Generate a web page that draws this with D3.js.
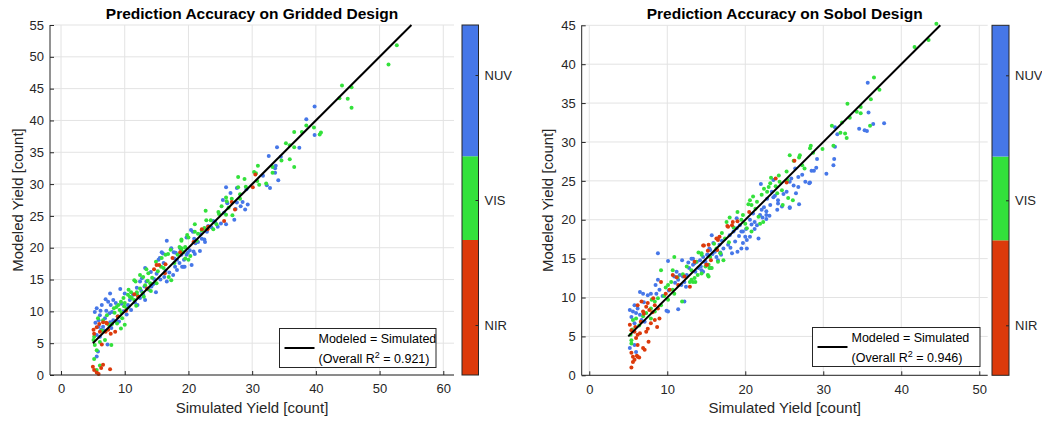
<!DOCTYPE html>
<html><head><meta charset="utf-8">
<script src="https://cdn.jsdelivr.net/npm/d3@7"></script>
<style>
body{margin:0;background:#fff}
svg{display:block}
text{font-family:"Liberation Sans",Arial,Helvetica,sans-serif}
</style>
</head><body>
<svg id="chart" width="1042" height="421"></svg>
<script>
// ---------- data ----------
const bandLabels = ["NIR", "VIS", "NUV"];
const bandTickValues = [1, 2, 3];
const bandDomain = [0.6, 3.4];
const bandEdges = [0.6, 1.68, 2.35, 3.4];
const bandColors = ["#dc3a0b", "#33e13b", "#4677e8"];

const gridTitle = "Prediction Accuracy on Gridded Design";
const gridXTicks = [0, 10, 20, 30, 40, 50, 60];
const gridYTicks = [0, 5, 10, 15, 20, 25, 30, 35, 40, 45, 50, 55];
const gridXDomain = [-1.73, 61.68];
const gridYDomain = [0, 55];
const gridRef = [[5, 5], [55, 55]];
const gridR2 = "0.921";
const gridNUV = [[39.8,42.2],[38.5,40.2],[39.8,37.7],[37.4,35.7],[33.9,35.8],[32.6,34.4],[34.5,34.3],[33.7,32.9],[33.6,32.5],[33.6,31.8],[31.7,31.3],[34.1,30.6],[32.3,29.8],[32.8,29.4],[29.1,29.2],[25.9,29.5],[26.6,28.6],[27.6,29.4],
[25.4,27.5],[26.1,27.0],[27.6,27.1],[28.5,27.2],[29.3,26.8],[28.2,26.5],[27.4,26.1],[28.9,26.0],[25.6,25.5],[23.9,24.2],[24.2,24.0],[25.1,23.8],[25.9,23.7],[27.2,24.4],[20.4,22.8],[20.7,22.5],[23.1,23.4],[23.6,23.2],[16.6,21.1],[22.5,21.3],[22.6,20.9],[22.1,21.4],[21.5,20.9],[21.1,20.7],[21.8,19.5],[20.2,19.6],[20.8,19.4],[21.0,19.0],[17.3,19.8],[17.7,19.3],[18.2,18.1],[18.9,18.9],[19.2,17.0],[20.5,17.3],[16.0,19.1],[15.3,18.1],
[19.7,21.6],[17.3,19.9],[18.0,19.2],[19.3,18.1],[19.7,18.9],[18.6,17.6],[19.0,17.0],[19.4,17.0],[15.8,19.3],[15.5,18.4],[13.2,16.8],[14.1,16.2],[15.0,15.9],[16.2,15.4],[16.6,14.7],[17.6,15.7],[17.9,17.0],[18.2,16.5],[14.9,13.0],[12.7,15.2],[12.4,14.7],[13.4,14.7],[11.9,13.7],[13.1,13.9],[14.2,13.9],[9.3,13.5],[10.0,12.8],[7.7,12.8],[8.2,11.8],[8.6,11.3],[7.8,11.0],[6.4,11.0],[5.6,10.5],[5.3,9.9],[7.4,11.5],[7.1,10.1],[7.6,9.7],[6.9,8.9],[6.1,9.4],[5.9,8.6],[6.6,7.6],[7.7,8.3],[8.2,8.6],[8.7,8.4],[7.9,7.4],[5.9,7.6],[6.3,7.1],[5.6,6.3],[6.1,6.0],[7.3,4.8],[5.8,3.7],[5.6,2.9],
[11.3,12.6],[11.9,12.7],[12.4,12.1],[13.2,11.8],[10.5,11.0],[11.0,10.2],[12.0,11.0],[9.8,10.0],[8.9,9.2],[10.3,9.5],
[9.5,11.2],[10.8,11.8],[11.6,11.4],[12.6,13.2],[13.8,13.4],[14.6,15.1],[15.6,15.0],[16.4,16.4],[17.0,16.1],[17.8,18.3],[18.7,19.9],[19.9,19.2],[20.9,21.4],[21.9,22.1],[22.9,22.5],[24.6,23.3],[8.0,9.9],[7.0,11.9],[6.2,10.1],[5.4,8.2],[6.8,7.0],[9.1,8.4],[10.6,10.7],[12.9,12.6],[14.5,14.3],[16.1,17.6]];
const gridVIS = [[52.7,51.8],[51.4,48.8],[44.1,45.5],[45.6,45.2],[43.7,43.5],[45.0,43.4],[45.6,42.0],[38.5,39.2],[39.7,38.9],[37.8,38.2],[40.8,38.1],[40.6,37.8],[36.6,38.2],[35.3,36.4],[35.9,36.1],[36.6,35.8],[35.9,33.9],[34.6,33.7],[36.6,32.7],[33.2,32.7],[30.9,32.9],[30.3,31.9],[30.6,31.7],[33.2,31.8],[27.8,31.1],[28.8,30.8],[30.8,30.5],[31.1,29.9],[32.2,30.1],[27.8,29.5],[29.0,29.6],
[25.9,27.9],[26.0,27.3],[26.8,27.7],[28.1,27.7],[28.1,28.4],[22.7,25.8],[24.7,25.6],[24.8,25.3],[25.9,25.2],[26.9,25.1],[21.0,23.7],[22.8,24.3],[23.5,24.3],[24.4,23.7],[22.1,22.7],[21.0,22.5],[21.5,22.2],[18.9,21.1],[19.8,22.0],[20.0,21.6],[18.9,19.9],[19.5,20.0],[18.3,18.9],[20.3,18.7],[19.5,18.3],[20.0,18.1],[15.8,18.4],[16.8,19.0],
[18.9,21.3],[19.5,20.1],[18.9,19.6],[17.2,19.7],[16.4,18.9],[14.9,17.8],[15.7,17.0],[13.4,16.6],[13.7,16.0],[16.9,15.4],[17.3,14.9],[13.6,13.5],[14.1,13.2],[11.5,14.9],[11.7,14.7],[12.4,15.7],[10.6,13.4],[11.0,13.0],[10.5,12.6],[11.1,12.1],[11.5,11.8],[9.8,12.1],[9.4,11.5],[10.0,11.3],[9.0,11.0],[8.7,10.7],[9.2,10.2],[8.4,9.8],[9.5,9.8],[5.8,8.9],[6.6,8.6],[9.0,9.2],[9.6,8.9],[10.0,7.9],[9.4,7.3],[5.2,6.0],[5.1,5.5],[6.1,5.2],[6.9,5.5],[7.9,4.7],[5.3,4.7],[5.6,3.9],[5.2,2.5],[6.1,1.5],[5.6,0.8],
[12.9,15.4],[13.2,14.1],[14.0,14.4],[12.0,12.5],[12.8,12.9],[10.3,10.4],[8.0,8.0],[7.2,9.4],
[8.3,10.5],[9.9,10.8],[10.8,12.3],[11.9,13.0],[12.4,13.6],[13.0,12.3],[14.3,15.3],[15.2,16.3],[16.1,16.8],[17.8,17.6],[18.6,20.1],[19.2,19.3],[21.3,21.1],[22.5,23.1],[23.9,22.9],[25.2,26.5],[26.3,26.3],[7.5,7.9],[6.4,7.0],[8.8,8.1],[11.8,10.9],[13.6,14.8],[15.0,14.4]];
const gridNIR = [[30.5,31.5],[30.1,29.5],[26.8,27.2],[27.3,26.0],[25.6,24.2],[23.1,23.3],[23.0,22.9],[20.8,20.9],[17.5,18.4],[16.4,17.4],[15.0,17.3],[14.6,16.6],[15.4,17.3],[16.3,16.0],[11.5,12.7],[12.1,12.3],[7.2,8.1],[6.6,8.3],[7.1,8.2],[7.4,7.1],[7.8,6.5],[7.0,6.8],[8.5,6.8],[5.1,7.1],[5.2,6.5],[6.1,6.8],[6.4,4.8],[5.0,1.3],[5.2,0.8],[5.6,0.4],[5.9,0.15],[6.3,1.1],[6.6,1.6],[7.7,0.9],
[8.9,9.2],[10.2,10.1],[13.5,13.6],[18.7,19.3],[22.1,22.9],[6.0,8.0],[5.6,7.5]];

const sobolTitle = "Prediction Accuracy on Sobol Design";
const sobolXTicks = [0, 10, 20, 30, 40, 50];
const sobolYTicks = [0, 5, 10, 15, 20, 25, 30, 35, 40, 45];
const sobolXDomain = [-0.97, 51.08];
const sobolYDomain = [0, 45];
const sobolRef = [[5, 5], [45, 45]];
const sobolR2 = "0.946";
const sobolNUV = [[35.7,37.6],[35.8,33.8],[37.8,32.4],[36.4,32.3],[34.6,31.7],[35.3,31.5],[35.6,31.4],[31.5,31.9],[31.8,31.0],[31.5,29.4],
[29.2,27.8],[30.4,25.9],[29.1,26.7],[28.8,26.3],[28.5,26.3],[26.4,26.6],[25.9,25.3],[25.7,24.9],[27.7,24.9],[28.3,24.8],[26.8,24.2],[26.5,23.4],[25.3,23.6],[22.0,24.6],[23.4,23.6],[23.8,23.1],[24.2,22.5],[24.2,22.1],[24.7,21.7],[24.1,21.3],[25.7,21.5],[26.9,22.0],[22.8,22.7],[23.2,21.9],[22.7,21.1],[22.1,21.3],[22.7,20.6],[23.1,20.5],[22.7,20.1],[22.2,20.3],[21.9,20.6],[20.6,20.0],[21.2,19.7],[21.5,19.3],[20.8,19.4],[21.2,18.8],[21.7,17.6],[18.9,20.2],[19.3,19.3],[19.7,18.5],[18.9,18.9],[19.5,18.5],[20.0,17.8],[20.6,17.8],[20.2,17.4],[19.7,17.0],[19.5,16.3],[20.2,16.3],[18.5,18.5],[18.0,18.0],[18.7,17.2],[17.8,16.8],[17.2,16.3],[18.3,15.7],[15.7,18.0],[15.9,17.0],[15.5,16.1],[16.1,15.9],[16.3,15.2],[15.1,15.5],[14.6,15.2],[14.8,14.6],[14.2,14.8],[13.8,14.6],[13.1,15.0],[13.3,14.2],[14.0,13.8],[14.6,13.3],[31.3,27.0],[31.4,27.8],[28.2,24.7],[26.8,25.5],[25.7,21.6],[23.6,25.1],
[16.5,17.6],[16.7,16.8],[15.4,16.3],[16.9,15.5],[16.5,14.8],[15.2,15.5],[14.9,14.6],[15.6,13.8],[14.4,13.5],[8.8,15.7],[10.1,14.7],[11.9,14.8],[12.7,14.5],[13.3,15.0],[13.5,14.4],[11.2,13.3],[11.6,12.9],[12.0,12.7],[10.9,12.7],[11.4,12.3],[12.2,12.0],[11.8,11.6],[12.4,11.4],[8.8,12.3],[8.5,11.6],[9.0,11.0],[7.9,10.5],[7.5,10.3],[6.9,10.5],[6.5,10.7],[8.6,10.5],[10.1,8.2],[9.9,8.3],[11.4,8.5],[12.2,9.5],[5.8,9.0],[5.2,8.4],[6.0,8.0],[5.4,7.5],[6.5,7.8],[6.7,7.1],[5.8,6.7],[7.1,6.9],[5.2,3.5],[5.8,3.9],[6.0,3.0],
[17.0,17.3],[18.1,16.4],[19.2,17.9],[21.0,20.8],[22.4,21.6],[23.6,22.9],[24.9,23.3],[16.8,15.8],[14.3,14.0],[13.6,13.3],[12.5,12.9],[11.0,11.9],[10.2,10.9],[9.4,10.2],[7.0,9.4],[6.2,8.6],[5.6,8.2],[12.8,13.8],[15.8,15.6],[20.1,18.8],[26.2,24.4],[27.3,25.8],[19.0,15.9]];
const sobolVIS = [[44.5,45.2],[43.5,43.1],[41.7,42.2],[36.5,38.3],[37.2,36.7],[36.1,35.5],[33.1,34.9],[34.8,34.5],[34.3,33.9],[34.8,33.7],[33.4,33.1],[36.0,32.1],[32.4,32.5],[31.1,32.1],[32.2,31.2],[32.8,31.1],[33.0,30.5],[31.3,29.5],[29.9,29.1],[28.4,29.5],
[27.6,26.6],[27.3,27.0],[26.9,28.0],[26.2,27.6],[25.7,28.3],[27.0,28.3],[28.3,29.2],[28.7,28.6],[25.3,26.2],[25.4,25.1],[25.5,22.8],[24.4,24.9],[24.7,23.8],[24.1,23.4],[23.3,25.4],[23.2,24.7],[23.0,24.2],[22.4,24.0],[22.1,23.2],[21.0,23.0],[24.8,21.9],[26.1,22.5],[21.5,22.3],[20.8,21.9],[20.4,22.0],[20.6,22.5],[21.7,20.4],[22.3,19.7],[21.9,19.5],[19.7,20.6],[19.5,20.0],[20.0,19.5],[20.2,18.9],[20.8,18.5],[18.0,20.3],[17.6,19.7],[17.4,17.6],[16.3,16.3],[16.8,15.7],[17.2,14.8],[16.5,14.6],[14.4,15.7],[15.5,15.2],[15.3,14.2],[13.1,12.3],[13.6,12.0],[15.3,12.7],[15.7,13.8],
[14.4,15.5],[13.7,14.6],[15.2,12.9],[14.4,13.1],[13.9,12.9],[15.4,13.8],[10.9,15.2],[9.2,13.5],[12.5,14.0],[13.1,13.5],[13.3,12.0],[12.9,12.0],[13.5,12.5],[10.7,13.5],[10.5,12.0],[10.1,11.6],[10.7,11.0],[10.9,10.5],[10.1,9.7],[11.9,9.5],[8.8,9.9],[8.4,9.5],[9.2,9.0],[7.9,8.6],[8.4,8.2],[6.0,7.3],[5.6,7.1],[7.3,8.0],[7.9,7.3],[5.3,5.2],[5.4,4.5],[5.4,4.1],
[17.0,18.3],[18.5,19.0],[19.0,21.0],[21.3,21.4],[22.8,23.6],[23.9,24.3],[24.3,25.7],[16.0,16.9],[14.9,14.0],[12.0,13.0],[11.3,12.6],[9.8,11.3],[9.6,10.2],[8.0,9.7],[6.4,6.4],[5.5,5.9],[6.9,7.6],[14.0,15.8],[17.9,17.1]];
const sobolNIR = [[26.3,27.6],[25.3,24.8],[23.9,25.3],[20.5,21.0],[19.0,19.8],[17.7,19.2],[18.3,19.3],[18.4,19.7],[17.8,19.1],[16.7,17.8],[16.5,17.4],[16.3,17.6],[14.6,16.7],[15.3,16.8],[15.1,14.2],[14.7,16.7],[15.2,16.0],[15.0,14.2],[15.6,14.8],[10.7,12.9],[9.2,12.0],[12.2,12.7],[11.4,11.6],[10.3,11.0],[12.9,11.4],[8.2,9.9],[7.5,9.3],[8.4,9.0],[8.8,8.6],[7.7,8.4],[6.7,9.5],[6.2,9.0],[7.3,8.8],[6.9,8.2],[7.9,6.7],[7.5,6.0],[7.3,5.6],[8.7,6.2],[8.4,7.1],[9.0,7.3],[5.2,6.5],[5.4,5.8],[5.8,5.6],[6.5,5.4],[6.2,5.2],[6.0,4.8],[6.2,3.9],[6.9,3.5],[7.1,3.3],[7.6,4.3],[5.4,2.9],[5.6,2.4],[5.8,2.0],[6.2,2.4],[5.6,1.7],[5.4,1.0],[6.1,2.5],[6.4,2.3],
[9.8,10.5],[11.2,12.6],[13.5,14.6],[6.6,6.9],[7.0,7.9],[8.1,8.1],[5.9,6.2],[16.4,16.1]];

// ---------- layout ----------
const AX = "#262626";
const GRIDC = "#e3e3e3";
const panels = [
  {title: gridTitle, xTicks: gridXTicks, yTicks: gridYTicks, xDomain: gridXDomain, yDomain: gridYDomain,
   ref: gridRef, r2: gridR2, series: [gridNUV, gridVIS, gridNIR],
   left: 50, right: 454, top: 25, bottom: 375, cbLeft: 462, cbRight: 478.5,
   leg: {x0: 279.5, x1: 436, y0: 328.5, y1: 367.5}, yLabelX: 18},
  {title: sobolTitle, xTicks: sobolXTicks, yTicks: sobolYTicks, xDomain: sobolXDomain, yDomain: sobolYDomain,
   ref: sobolRef, r2: sobolR2, series: [sobolNUV, sobolVIS, sobolNIR],
   left: 581.7, right: 987.7, top: 25.3, bottom: 375.3, cbLeft: 992, cbRight: 1009,
   leg: {x0: 812.5, x1: 980, y0: 327.5, y1: 366.5}, yLabelX: 548}
];
const seriesColors = [bandColors[2], bandColors[1], bandColors[0]];

const svg = d3.select("#chart");

panels.forEach(p => {
  const x = d3.scaleLinear().domain(p.xDomain).range([p.left, p.right]);
  const y = d3.scaleLinear().domain(p.yDomain).range([p.bottom, p.top]);
  const g = svg.append("g");

  // grid
  g.append("g").selectAll("line").data(p.xTicks).join("line")
    .attr("x1", d => x(d)).attr("x2", d => x(d)).attr("y1", p.top).attr("y2", p.bottom)
    .attr("stroke", GRIDC).attr("stroke-width", 1);
  g.append("g").selectAll("line").data(p.yTicks).join("line")
    .attr("x1", p.left).attr("x2", p.right).attr("y1", d => y(d)).attr("y2", d => y(d))
    .attr("stroke", GRIDC).attr("stroke-width", 1);

  // points
  p.series.forEach((s, i) => {
    g.append("g").selectAll("circle").data(s).join("circle")
      .attr("cx", d => x(d[0])).attr("cy", d => y(d[1])).attr("r", 2)
      .attr("fill", seriesColors[i]);
  });

  // reference line
  g.append("path").datum(p.ref)
    .attr("d", d3.line().x(d => x(d[0])).y(d => y(d[1])))
    .attr("stroke", "#000").attr("stroke-width", 2).attr("fill", "none");

  // axes
  const xAxis = d3.axisBottom(x).tickValues(p.xTicks).tickSize(-4).tickPadding(9).tickFormat(d3.format("d"));
  const gx = g.append("g").attr("transform", `translate(0,${p.bottom})`).call(xAxis);
  gx.select(".domain").attr("d", `M${p.left},0H${p.right}`);
  const yAxis = d3.axisLeft(y).tickValues(p.yTicks).tickSize(-4).tickPadding(6).tickFormat(d3.format("d"));
  const gy = g.append("g").attr("transform", `translate(${p.left},0)`).call(yAxis);
  gy.select(".domain").attr("d", `M0,${p.top}V${p.bottom}`);
  [gx, gy].forEach(a => {
    a.select(".domain").attr("stroke", AX).attr("stroke-width", 1);
    a.selectAll(".tick line").attr("stroke", AX);
    a.selectAll(".tick text").attr("fill", AX).attr("font-size", 13)
      .attr("font-family", '"Liberation Sans",Arial,sans-serif');
  });

  // labels
  g.append("text").attr("x", (p.left + p.right) / 2).attr("y", 19)
    .attr("text-anchor", "middle").attr("font-weight", "bold").attr("font-size", 15.5)
    .attr("fill", "#000").text(p.title);
  g.append("text").attr("x", (p.left + p.right) / 2).attr("y", 413)
    .attr("text-anchor", "middle").attr("font-size", 15).attr("fill", AX)
    .text("Simulated Yield [count]");
  g.append("text").attr("transform", `translate(${p.yLabelX + 5},${(p.top + p.bottom) / 2}) rotate(-90)`)
    .attr("text-anchor", "middle").attr("font-size", 15).attr("fill", AX)
    .text("Modeled Yield [count]");

  // legend
  const L = p.leg;
  g.append("rect").attr("x", L.x0).attr("y", L.y0).attr("width", L.x1 - L.x0).attr("height", L.y1 - L.y0)
    .attr("fill", "#fff").attr("stroke", AX).attr("stroke-width", 1);
  const midY = (L.y0 + L.y1) / 2;
  g.append("line").attr("x1", L.x0 + 5).attr("x2", L.x0 + 35).attr("y1", midY).attr("y2", midY)
    .attr("stroke", "#000").attr("stroke-width", 2);
  g.append("text").attr("x", L.x0 + 39).attr("y", L.y0 + 14.5).attr("font-size", 12.5).attr("fill", "#000")
    .text("Modeled = Simulated");
  const t2 = g.append("text").attr("x", L.x0 + 39).attr("y", L.y0 + 34.5).attr("font-size", 12.5).attr("fill", "#000");
  t2.append("tspan").text("(Overall R");
  t2.append("tspan").attr("dy", -5).attr("font-size", 9).text("2");
  t2.append("tspan").attr("dy", 5).text(` = ${p.r2})`);

  // colorbar
  const cy = d3.scaleLinear().domain(bandDomain).range([p.bottom, p.top]);
  const bands = bandColors.map((c, i) => ({c, a: bandEdges[i], b: bandEdges[i + 1]}));
  g.append("g").selectAll("rect").data(bands).join("rect")
    .attr("x", p.cbLeft).attr("width", p.cbRight - p.cbLeft)
    .attr("y", d => cy(d.b)).attr("height", d => cy(d.a) - cy(d.b))
    .attr("fill", d => d.c);
  g.append("rect").attr("x", p.cbLeft).attr("y", p.top).attr("width", p.cbRight - p.cbLeft)
    .attr("height", p.bottom - p.top).attr("fill", "none").attr("stroke", AX).attr("stroke-width", 1);
  const cAxis = d3.axisRight(cy).tickValues(bandTickValues).tickSize(-3).tickPadding(6)
    .tickFormat((d, i) => bandLabels[i]);
  const gc = g.append("g").attr("transform", `translate(${p.cbRight},0)`).call(cAxis);
  gc.select(".domain").remove();
  gc.selectAll(".tick line").attr("stroke", AX);
  gc.selectAll(".tick text").attr("fill", AX).attr("font-size", 13)
    .attr("font-family", '"Liberation Sans",Arial,sans-serif');
});
</script>
</body></html>
